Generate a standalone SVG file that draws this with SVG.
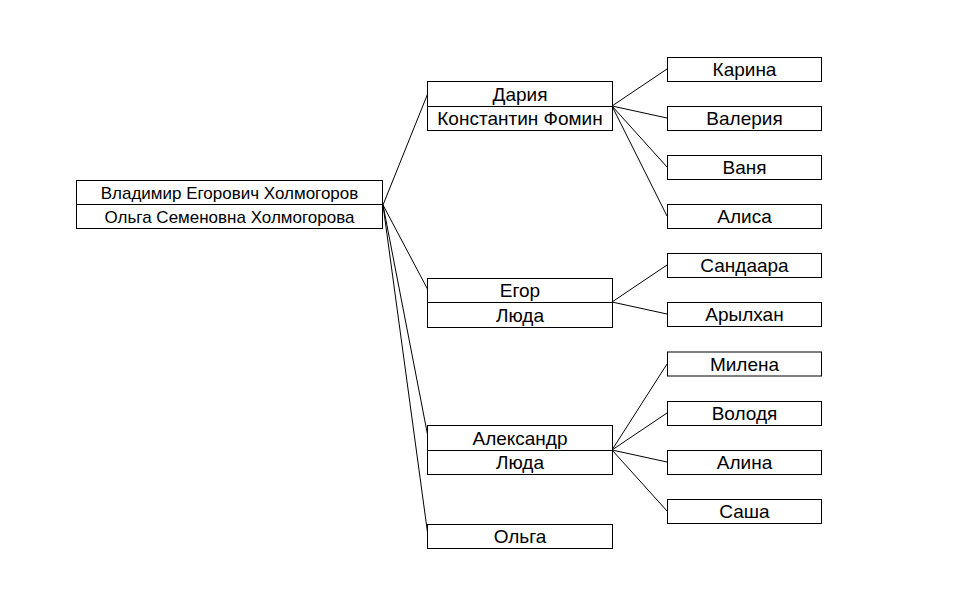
<svg xmlns="http://www.w3.org/2000/svg" width="973" height="605" viewBox="0 0 973 605">
<style>
rect{fill:#fff;stroke:#000;stroke-width:1}
text{font-family:"Liberation Sans",Arial,sans-serif;font-size:19px;fill:#000;text-anchor:middle}
.r text{font-size:17px}
#connectors line{stroke:#000;stroke-width:1}
</style>
<rect x="0" y="0" width="973" height="605" style="stroke:none"/>
<g id="connectors">
<line x1="383" y1="205" x2="428" y2="93"/>
<line x1="383" y1="205" x2="428" y2="290"/>
<line x1="383" y1="205" x2="428" y2="437"/>
<line x1="383" y1="205" x2="428" y2="536"/>
<line x1="612" y1="106" x2="667" y2="69"/>
<line x1="612" y1="106" x2="667" y2="118"/>
<line x1="612" y1="106" x2="667" y2="167"/>
<line x1="612" y1="106" x2="667" y2="216"/>
<line x1="612" y1="302" x2="667" y2="265"/>
<line x1="612" y1="302" x2="667" y2="314"/>
<line x1="612" y1="450" x2="667" y2="364"/>
<line x1="612" y1="450" x2="667" y2="413"/>
<line x1="612" y1="450" x2="667" y2="462"/>
<line x1="612" y1="450" x2="667" y2="511"/>
</g>
<g id="root" class="r">
<rect x="76.5" y="180.5" width="306" height="24"/>
<rect x="76.5" y="204.5" width="306" height="24"/>
<text x="229.5" y="198.5">Владимир Егорович Холмогоров</text>
<text x="229.5" y="222.5">Ольга Семеновна Холмогорова</text>
</g>
<g id="daria">
<rect x="427.5" y="81.5" width="185" height="25"/>
<rect x="427.5" y="106.5" width="185" height="24"/>
<text x="520" y="100.5">Дария</text>
<text x="520" y="125">Константин Фомин</text>
</g>
<g id="egor">
<rect x="427.5" y="278.5" width="185" height="24"/>
<rect x="427.5" y="302.5" width="185" height="25"/>
<text x="520" y="297">Егор</text>
<text x="520" y="321.5">Люда</text>
</g>
<g id="alexandr">
<rect x="427.5" y="425.5" width="185" height="25"/>
<rect x="427.5" y="450.5" width="185" height="24"/>
<text x="520" y="444.5">Александр</text>
<text x="520" y="469">Люда</text>
</g>
<g id="olga">
<rect x="427.5" y="524.5" width="185" height="24"/>
<text x="520" y="543">Ольга</text>
</g>
<g id="karina"><rect x="667.5" y="57.5" width="154" height="24"/><text x="744.5" y="76">Карина</text></g>
<g id="valeria"><rect x="667.5" y="106.5" width="154" height="24"/><text x="744.5" y="125">Валерия</text></g>
<g id="vanya"><rect x="667.5" y="155.5" width="154" height="24"/><text x="744.5" y="174">Ваня</text></g>
<g id="alisa"><rect x="667.5" y="204.5" width="154" height="24"/><text x="744.5" y="223">Алиса</text></g>
<g id="sandaara"><rect x="667.5" y="253.5" width="154" height="24"/><text x="744.5" y="272">Сандаара</text></g>
<g id="arylhan"><rect x="667.5" y="302.5" width="154" height="24"/><text x="744.5" y="321">Арылхан</text></g>
<g id="milena"><rect x="667.5" y="352" width="154" height="24"/><text x="744.5" y="370.5">Милена</text></g>
<g id="volodya"><rect x="667.5" y="401.5" width="154" height="24"/><text x="744.5" y="420">Володя</text></g>
<g id="alina"><rect x="667.5" y="450.5" width="154" height="24"/><text x="744.5" y="469">Алина</text></g>
<g id="sasha"><rect x="667.5" y="499.5" width="154" height="24"/><text x="744.5" y="518">Саша</text></g>
</svg>
